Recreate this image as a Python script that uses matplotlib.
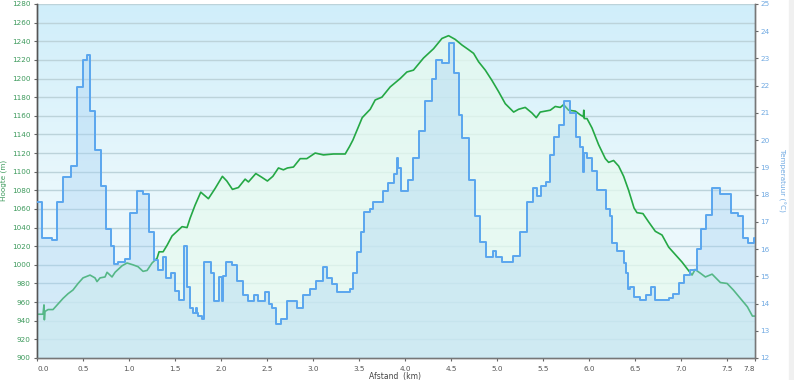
import numpy as np
import matplotlib
matplotlib.use("Agg")
import matplotlib.pyplot as plt
from matplotlib.colors import LinearSegmentedColormap

# ---- data ----
dist_elev = [0.000, 0.065, 0.076, 0.080, 0.087, 0.120, 0.174, 0.228, 0.283, 0.337, 0.391, 0.446,
             0.500, 0.576, 0.630, 0.652, 0.685, 0.739, 0.761, 0.815, 0.848, 0.924, 0.978, 1.043,
             1.098, 1.152, 1.196, 1.250, 1.304, 1.326, 1.370, 1.413, 1.467, 1.522, 1.576, 1.630,
             1.663, 1.717, 1.779, 1.862, 1.935, 2.014, 2.062, 2.123, 2.188, 2.261, 2.297, 2.377,
             2.442, 2.503, 2.562, 2.623, 2.677, 2.721, 2.786, 2.859, 2.931, 3.022, 3.112, 3.221,
             3.348, 3.395, 3.432, 3.478, 3.533, 3.620, 3.674, 3.747, 3.837, 3.946, 4.018, 4.090,
             4.199, 4.308, 4.399, 4.471, 4.543, 4.616, 4.688, 4.743, 4.797, 4.870, 4.942, 5.014,
             5.087, 5.178, 5.232, 5.304, 5.377, 5.424, 5.467, 5.576, 5.630, 5.685, 5.721, 5.775,
             5.848, 5.902, 5.935, 5.940, 5.945, 5.975, 6.029, 6.101, 6.174, 6.210, 6.264, 6.319,
             6.373, 6.427, 6.486, 6.518, 6.583, 6.645, 6.717, 6.790, 6.862, 6.935, 7.007, 7.062,
             7.116, 7.149, 7.207, 7.261, 7.334, 7.424, 7.497, 7.565, 7.641, 7.717, 7.772, 7.800]
elevation = [947, 947, 957, 941, 950, 952, 952, 958, 964, 969, 973, 980,
             986, 989, 986, 982, 986, 987, 992, 987, 992, 999, 1002, 1000,
             998, 993, 994, 1002, 1007, 1014, 1014, 1021, 1031, 1036, 1041, 1040,
             1050, 1064, 1078, 1071, 1082, 1095, 1090, 1081, 1083, 1092, 1089, 1098,
             1094, 1090, 1095, 1104, 1102, 1104, 1105, 1114, 1114, 1120, 1118, 1119,
             1119, 1127, 1134, 1145, 1158, 1167, 1177, 1180, 1191, 1200, 1207, 1209,
             1222, 1232, 1243, 1246, 1242, 1236, 1231, 1227, 1218, 1209, 1198, 1186,
             1173, 1164, 1167, 1169, 1163, 1158, 1164, 1166, 1170, 1169, 1172, 1166,
             1165, 1161, 1159, 1166, 1157, 1157, 1147, 1129, 1114, 1110, 1112, 1106,
             1095, 1080, 1061, 1056, 1055, 1046, 1036, 1032, 1019, 1011, 1003, 996,
             989, 995, 991, 987, 990, 981, 980, 973, 964, 955, 945, 945]

dist_temp = [0.000, 0.058, 0.160, 0.221, 0.286, 0.366, 0.438, 0.503, 0.540, 0.579, 0.630, 0.692,
             0.750, 0.801, 0.837, 0.884, 0.957, 1.011, 1.090, 1.155, 1.217, 1.272, 1.318, 1.366,
             1.402, 1.453, 1.497, 1.547, 1.598, 1.634, 1.663, 1.692, 1.728, 1.742, 1.753, 1.790,
             1.815, 1.888, 1.924, 1.982, 2.008, 2.025, 2.054, 2.116, 2.177, 2.242, 2.297, 2.359,
             2.405, 2.478, 2.525, 2.551, 2.598, 2.649, 2.714, 2.829, 2.895, 2.967, 3.033, 3.105,
             3.155, 3.203, 3.258, 3.395, 3.432, 3.475, 3.518, 3.554, 3.620, 3.652, 3.764, 3.818,
             3.880, 3.910, 3.920, 3.953, 4.025, 4.090, 4.155, 4.217, 4.290, 4.337, 4.399, 4.471,
             4.525, 4.587, 4.616, 4.688, 4.761, 4.815, 4.880, 4.953, 4.989, 5.051, 5.174, 5.250,
             5.321, 5.386, 5.435, 5.473, 5.527, 5.568, 5.620, 5.666, 5.721, 5.793, 5.859, 5.895,
             5.932, 5.940, 5.975, 6.029, 6.084, 6.185, 6.221, 6.247, 6.301, 6.380, 6.402, 6.416,
             6.438, 6.489, 6.554, 6.620, 6.671, 6.717, 6.862, 6.910, 6.971, 7.025, 7.098, 7.171,
             7.214, 7.272, 7.334, 7.424, 7.540, 7.612, 7.671, 7.721, 7.786, 7.800]
temperature = [17.74, 16.42, 16.34, 17.73, 18.64, 19.05, 21.94, 22.94, 23.14, 21.06, 19.64, 18.33,
               16.73, 16.11, 15.44, 15.54, 15.64, 17.32, 18.13, 18.03, 16.63, 15.60, 15.23, 15.72,
               14.93, 15.13, 14.47, 14.13, 16.11, 14.62, 13.85, 13.64, 13.82, 13.64, 13.55, 13.43,
               15.51, 15.13, 14.10, 14.96, 14.10, 15.01, 15.53, 15.43, 14.84, 14.31, 14.10, 14.31,
               14.10, 14.42, 13.98, 13.82, 13.24, 13.43, 14.10, 13.82, 14.31, 14.52, 14.82, 15.33,
               14.95, 14.72, 14.42, 14.52, 15.13, 15.90, 16.64, 17.37, 17.46, 17.74, 18.15, 18.44,
               18.76, 19.36, 18.97, 18.13, 18.54, 19.36, 20.35, 21.45, 22.23, 22.94, 22.85, 23.56,
               22.46, 20.92, 20.07, 18.54, 17.23, 16.25, 15.72, 15.94, 15.72, 15.54, 15.74, 16.64,
               17.74, 18.23, 17.96, 18.33, 18.45, 19.44, 20.10, 20.56, 21.45, 21.01, 20.13, 19.74,
               18.84, 19.54, 19.33, 18.87, 18.17, 17.46, 17.21, 16.24, 15.93, 15.48, 15.11, 14.53,
               14.62, 14.25, 14.13, 14.31, 14.62, 14.13, 14.19, 14.35, 14.74, 15.05, 15.23, 16.00,
               16.72, 17.24, 18.23, 18.02, 17.34, 17.23, 16.42, 16.24, 16.42, 16.42]

x_ticks = [0.0, 0.5, 1.0, 1.5, 2.0, 2.5, 3.0, 3.5, 4.0, 4.5, 5.0, 5.5, 6.0, 6.5, 7.0, 7.5, 7.8]
elev_ticks = list(range(900, 1281, 20))
temp_ticks = list(range(12, 26))

GREEN = '#25a845'
BLUE = '#5aa6ee'
LGREEN = '#3d9a5c'
LBLUE = '#6fa9e2'
FS = 5.2

fig = plt.figure(figsize=(7.94, 3.80), dpi=100)
fig.patch.set_facecolor('white')
ax = fig.add_axes([37/794, 1 - 358/380, (755 - 37)/794, (358 - 4)/380])
ax2 = ax.twinx()

ax.set_xlim(0, 7.8)
ax.set_ylim(900, 1280)
ax2.set_ylim(12, 25)

# background gradient
cmap = LinearSegmentedColormap.from_list('bg', ['#d0eefa', '#e8f7fc', '#f3fbfd'])
grad = np.linspace(0, 1, 256).reshape(-1, 1)
ax.imshow(grad, aspect='auto', cmap=cmap, extent=[0, 1, 0, 1], transform=ax.transAxes,
          zorder=0, origin='upper')

# grid
for v in elev_ticks:
    ax.axhline(v, color='#bcd3da', lw=1.0, zorder=1)

# elevation area
ax.fill_between(dist_elev, elevation, 900, color='#e6faef', alpha=0.75, zorder=2, lw=0)
ax.plot(dist_elev, elevation, color=GREEN, lw=1.2, zorder=4)

# temperature area
ax2.fill_between(dist_temp, temperature, 12, step='post', color='#a6d2f4', alpha=0.38, zorder=2, lw=0)
ax2.step(dist_temp, temperature, where='post', color=BLUE, lw=1.4, zorder=3)
ax2.set_zorder(ax.get_zorder() + 1)
ax2.patch.set_visible(False)

# axes styling
ax.set_xticks(x_ticks)
ax.set_xticklabels([f'{v:.1f}' for v in x_ticks], fontsize=FS, color='#555555')
lbls = ax.get_xticklabels()
lbls[0].set_horizontalalignment('left')
lbls[-1].set_horizontalalignment('right')
ax.set_yticks(elev_ticks)
ax.set_yticklabels([str(v) for v in elev_ticks], fontsize=FS, color=LGREEN)
ax2.set_yticks(temp_ticks)
ax2.set_yticklabels([str(v) for v in temp_ticks], fontsize=FS, color=LBLUE)

ax.tick_params(axis='x', length=2.5, width=0.8, color='#666666', pad=3)
ax.tick_params(axis='y', length=2.2, width=0.8, color='#666666', pad=2.4)
ax2.tick_params(axis='y', length=2.2, width=0.8, color='#666666', pad=1.5)

for a in (ax, ax2):
    a.spines['top'].set_visible(False)
    a.spines['left'].set_color('#555555')
    a.spines['right'].set_color('#777777')
    a.spines['bottom'].set_color('#777777')
    for s in ('left', 'right', 'bottom'):
        a.spines[s].set_linewidth(1.0)

fig.text(395/794, 1 - 376/380, 'Afstand  (km)', fontsize=5.5, color='#444444', ha='center', va='center')
fig.text(4/794, 1 - 180/380, 'Hoogte (m)', fontsize=FS, color=LGREEN, ha='center', va='center', rotation=90)
fig.text(782/794, 1 - 180/380, 'Temperatuur (°C)', fontsize=FS, color=LBLUE, ha='center', va='center', rotation=270)

# right-edge scrollbar strip
fig.patches.append(plt.Rectangle((789/794, 0), 5/794, 1, transform=fig.transFigure,
                                 color='#f0f0f0', zorder=0))

fig.savefig('out.png', dpi=100)
